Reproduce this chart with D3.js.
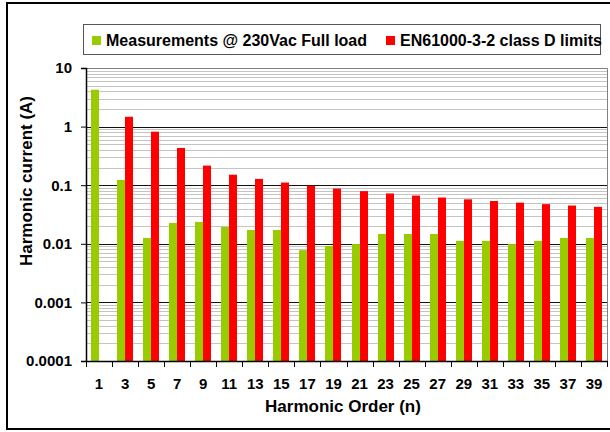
<!DOCTYPE html>
<html>
<head>
<meta charset="utf-8">
<script src="https://d3js.org/d3.v7.min.js"></script>
<style>
  body { margin: 0; background: #fff; }
  text { font-family: "Liberation Sans", Arial, sans-serif; font-weight: bold; fill: #000; }
</style>
</head>
<body>
<div id="chart"></div>
<script>
// harmonic orders and measured / limit currents (A)
const orders = ["1","3","5","7","9","11","13","15","17","19","21","23","25","27","29","31","33","35","37","39"];
const measured = [4.26,0.123,0.0126,0.0227,0.0236,0.0194,0.0172,0.0172,0.0078,0.0092,0.0099,0.0147,0.0147,0.0147,0.0112,0.0112,0.0099,0.0112,0.0126,0.0126];
const limits = [null,1.47,0.82,0.432,0.216,0.151,0.128,0.111,0.098,0.0876,0.0792,0.0723,0.0665,0.0616,0.0574,0.0537,0.0504,0.0475,0.045,0.0427];
const yTicks = [10,1,0.1,0.01,0.001,0.0001];
const yTickLabels = ["10","1","0.1","0.01","0.001","0.0001"];
const seriesNames = ["Measurements @ 230Vac Full load","EN61000-3-2 class D limits"];

const W = 610, H = 432;
const mLeft = 86, mRight = 607, mTop = 68, mBottom = 361;

const svg = d3.select("#chart").append("svg")
    .attr("width", W).attr("height", H);

svg.append("rect").attr("width", W).attr("height", H).attr("fill", "#fff");

// outer frame (right edge runs off the picture)
svg.append("rect")
    .attr("x", 7).attr("y", 3).attr("width", 620).attr("height", 426)
    .attr("fill", "none").attr("stroke", "#000").attr("stroke-width", 2);

const x = d3.scaleBand().domain(orders).range([mLeft, mRight]);
const y = d3.scaleLog().domain([0.0001, 10]).range([mBottom, mTop]);

// minor grid
const minor = [];
for (let e = -4; e < 1; e++) for (let m = 2; m <= 9; m++) minor.push(m * Math.pow(10, e));
svg.append("g").selectAll("line").data(minor).join("line")
    .attr("x1", mLeft).attr("x2", mRight)
    .attr("y1", d => Math.round(y(d)) + 0.5).attr("y2", d => Math.round(y(d)) + 0.5)
    .attr("stroke", "#c4c4c4");

// major grid
svg.append("g").selectAll("line").data(yTicks.slice(1, 5)).join("line")
    .attr("x1", mLeft).attr("x2", mRight)
    .attr("y1", d => Math.round(y(d)) + 0.5).attr("y2", d => Math.round(y(d)) + 0.5)
    .attr("stroke", "#111");

// plot border (top / right)
svg.append("path")
    .attr("d", `M${mLeft},${mTop + 0.5}H${mRight + 0.5}V${mBottom}`)
    .attr("fill", "none").attr("stroke", "#808080");

const bw = 8;
const cx = o => Math.round(x(o) + x.bandwidth() / 2);

svg.append("g").selectAll("rect")
    .data(measured.map((v, i) => ({o: orders[i], v})))
    .join("rect")
    .attr("x", d => cx(d.o) - bw)
    .attr("y", d => y(d.v)).attr("width", bw).attr("height", d => mBottom - y(d.v))
    .attr("fill", "#99cc00");

svg.append("g").selectAll("rect")
    .data(limits.map((v, i) => ({o: orders[i], v})).filter(d => d.v != null))
    .join("rect")
    .attr("x", d => cx(d.o))
    .attr("y", d => y(d.v)).attr("width", bw).attr("height", d => mBottom - y(d.v))
    .attr("fill", "#ff0000");

// y axis
const yAxis = svg.append("g").attr("transform", `translate(${mLeft},0)`)
    .call(d3.axisLeft(y).tickValues(yTicks).tickSize(5).tickPadding(9)
        .tickFormat((d, i) => yTickLabels[i]));
yAxis.attr("font-family", null);
yAxis.select(".domain").attr("stroke", "#000").attr("stroke-width", 1.5);
yAxis.selectAll("line").attr("stroke", "#000");
yAxis.selectAll("text").style("font-size", "15px");

// x axis
const xAxis = svg.append("g").attr("transform", `translate(0,${mBottom})`)
    .call(d3.axisBottom(x).tickSize(0).tickPadding(17));
xAxis.attr("font-family", null);
xAxis.select(".domain").attr("stroke", "#000").attr("stroke-width", 1.5);
xAxis.selectAll("text").style("font-size", "15px");
const bounds = orders.map(o => x(o)).concat([mRight]);
svg.append("g").selectAll("line").data(bounds).join("line")
    .attr("x1", d => Math.round(d) + 0.5).attr("x2", d => Math.round(d) + 0.5)
    .attr("y1", mBottom).attr("y2", mBottom + 6)
    .attr("stroke", "#000");

// axis titles
svg.append("text").attr("x", 343).attr("y", 412).attr("text-anchor", "middle")
    .style("font-size", "17px").text("Harmonic Order (n)");
svg.append("text").attr("transform", "translate(32,181) rotate(-90)")
    .attr("text-anchor", "middle").style("font-size", "17px")
    .text("Harmonic current (A)");

// legend
const lg = svg.append("g");
lg.append("rect").attr("x", 83.5).attr("y", 24.5).attr("width", 517).attr("height", 30)
    .attr("fill", "#fff").attr("stroke", "#555");
const colors = ["#99cc00", "#ff0000"];
const lx = [92, 386];
seriesNames.forEach((n, i) => {
  lg.append("rect").attr("x", lx[i]).attr("y", 36).attr("width", 9).attr("height", 9).attr("fill", colors[i]);
  lg.append("text").attr("x", lx[i] + 14).attr("y", 46).style("font-size", "16px").text(n);
});
</script>
</body>
</html>
